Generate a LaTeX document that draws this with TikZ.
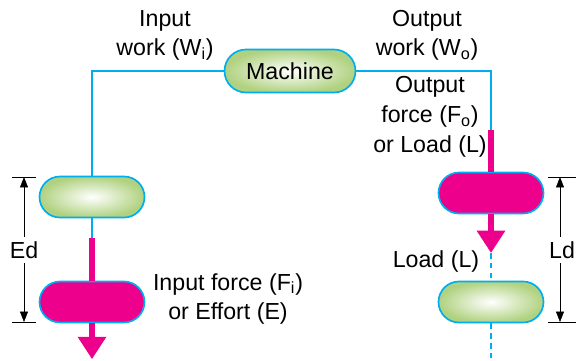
\documentclass[tikz,border=0pt]{standalone}
\usepackage{fontspec}
\setmainfont{Liberation Sans}
\usetikzlibrary{shapes.misc,arrows.meta}
\definecolor{linecyan}{RGB}{0,174,239}
\definecolor{forcemag}{RGB}{236,0,140}
\definecolor{capgreen}{RGB}{176,210,128}
\begin{document}
\begin{tikzpicture}[font=\fontsize{16.5}{21}\selectfont,
    capsule/.style={rounded rectangle,draw=linecyan,line width=1.2pt,minimum width=2.625cm,minimum height=1.025cm,inner sep=0pt},
    greencap/.style={capsule,shading=radial,inner color=white,outer color=capgreen},
    magcap/.style={capsule,fill=forcemag},
    wire/.style={draw=linecyan,line width=1.2pt},
    force/.style={draw=forcemag,line width=4.3pt},
    forcetip/.style={-{Triangle[width=0.68cm,length=0.56cm]}},
    dim/.style={thin,black,-{Triangle[width=0.2cm,length=0.26cm]}},
    label/.style={align=center,inner sep=1pt}]
    \useasboundingbox (0,0) rectangle (14.4,9);
    % boxes
    \node[greencap,minimum width=3.275cm,minimum height=1.075cm] (machine) at (7.25,7.225) {Machine};
    \node[greencap] (effortin) at (2.3,4.075) {};
    \node[magcap] (effort) at (2.3,1.45) {};
    \node[magcap] (loadout) at (12.275,4.175) {};
    \node[greencap] (load) at (12.275,1.45) {};
    \coordinate (effstart) at (2.3,3.05);
    \coordinate (effend) at (2.3,0.02);
    \coordinate (loadstart) at (12.275,5.75);
    \coordinate (loadtip) at (12.275,2.675);
    \coordinate (loadend) at (12.275,0);
    % work path
    \draw[wire] (machine.west) -| (effortin.north);
    \draw[wire] (machine.east) -| (loadstart);
    \draw[wire] (effortin.south) -- (effstart);
    \draw[force] (effstart) -- (effort.north);
    \draw[force,forcetip] (effort.south) -- (effend);
    \draw[force] (loadstart) -- (loadout.north);
    \draw[force,forcetip] (loadout.south) -- (loadtip);
    \draw[wire,dashed,dash pattern=on 4pt off 3pt,line width=1pt] (loadtip) -- (load.north);
    \draw[wire,dashed,dash pattern=on 4pt off 3pt,line width=1pt] (load.south) -- (loadend);
    % distances
    \coordinate (edtop) at (0.6,4.575);
    \coordinate (edbot) at (0.6,0.95);
    \coordinate (ldtop) at (14.0,4.575);
    \coordinate (ldbot) at (14.0,0.95);
    \draw[thin] ([xshift=-0.3cm]edtop) -- ([xshift=0.3cm]edtop);
    \draw[thin] ([xshift=-0.3cm]edbot) -- ([xshift=0.3cm]edbot);
    \draw[thin] ([xshift=-0.3cm]ldtop) -- ([xshift=0.4cm]ldtop);
    \draw[thin] ([xshift=-0.3cm]ldbot) -- ([xshift=0.4cm]ldbot);
    \node (ed) at (0.6,2.75) {Ed};
    \node (ld) at (14.05,2.75) {Ld};
    \draw[dim] (ed) -- (edtop);
    \draw[dim] (ed) -- (edbot);
    \draw[dim] (ld.north -| ldtop) -- (ldtop);
    \draw[dim] (ld.south -| ldbot) -- (ldbot);
    % labels
    \node[label] (inwork) at (4.125,8.12) {Input\\work (W\textsubscript{i})};
    \node[label] (outwork) at (10.675,8.12) {Output\\work (W\textsubscript{o})};
    \node[label] (outforce) at (10.75,6.08) {Output\\force (F\textsubscript{o})\\or Load (L)};
    \node[label] (inforce) at (5.7,1.53) {Input force (F\textsubscript{i})\\or Effort (E)};
    \node[label] (loadlbl) at (10.9,2.475) {Load (L)};
\end{tikzpicture}
\end{document}
